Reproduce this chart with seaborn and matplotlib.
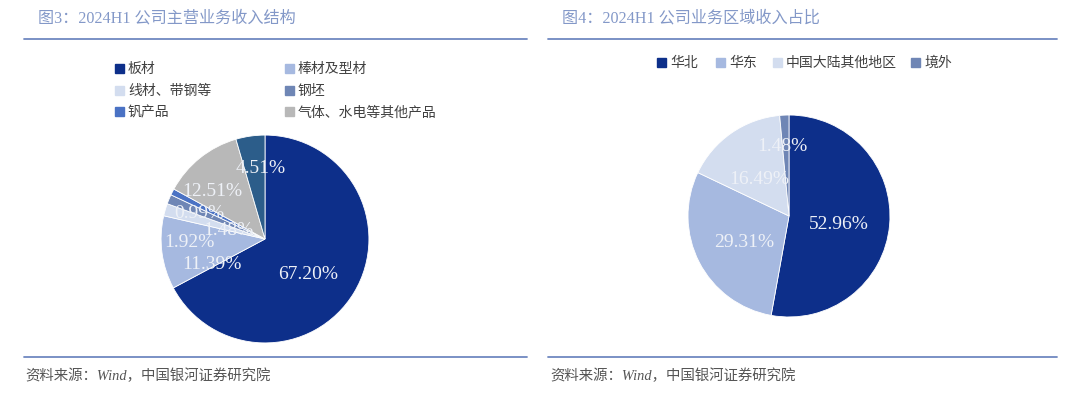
import numpy as np
import matplotlib.pyplot as plt
import matplotlib.patches as mpatches
import seaborn as sns

# 图3 数据：主营业务收入结构
cats_left = ['板材', '棒材及型材', '线材、带钢等', '钢坯', '钒产品', '气体、水电等其他产品', '其他']
vals_left = [67.20, 11.39, 1.92, 1.48, 0.99, 12.51, 4.51]
# 图4 数据：区域收入占比
cats_right = ['华北', '华东', '中国大陆其他地区', '境外']
vals_right = [52.96, 29.31, 16.49, 1.48]

colors_left = ['#0d2f8a', '#a6b9e0', '#d3ddef', '#6f86b5', '#4a72c4', '#b8b8b8', '#2c5d8a']
colors_right = ['#0d2f8a', '#a6b9e0', '#d3ddef', '#6f86b5']

# 数据标签位置（半径, 相对扇区中线的角度偏移）
lab_left = [(0.535, -7.5), (0.56, 17.7), (0.73, 18.5), (0.365, 7.4), (0.68, 4.8), (0.69, 8.4), (0.69, -5)]
lab_right = [(0.5, -3.6), (0.51, 2.9), (0.48, 3.6), (0.70, 2.5)]

sns.set_theme(style="white")
plt.rcParams['font.family'] = ['Noto Sans CJK SC', 'DejaVu Sans']

W, H = 1080, 402
fig = plt.figure(figsize=(W / 100, H / 100), dpi=100)
fig.patch.set_facecolor('white')

title_font = ['Liberation Serif', 'Noto Sans CJK SC']
title_color = '#8398c8'
line_color = '#7088c0'


def fx(x):
    return x / W


def fy(y):
    return 1 - y / H


def draw_pie(cx, cy, r, vals, colors, labs):
    ax = fig.add_axes([fx(cx - r), fy(cy + r), 2 * r / W, 2 * r / H])
    wedges, _ = ax.pie(vals, colors=colors, startangle=90, counterclock=False,
                       radius=1, wedgeprops=dict(edgecolor='white', linewidth=0.6))
    for w, v, (lr, shift) in zip(wedges, vals, labs):
        ang = np.deg2rad((w.theta1 + w.theta2) / 2 + shift)
        ax.text(lr * np.cos(ang), lr * np.sin(ang), f'{v:.2f}%', ha='center', va='center',
                fontsize=14, color='#eef1f7', family=['Liberation Serif', 'DejaVu Serif'])
    ax.set_xlim(-1.02, 1.02)
    ax.set_ylim(-1.02, 1.02)
    ax.set_aspect('equal')
    ax.axis('off')
    return ax


draw_pie(265, 240, 106, vals_left, colors_left, lab_left)
draw_pie(789, 217, 103, vals_right, colors_right, lab_right)

# 标题与分隔线
fig.text(fx(38), fy(18), '图3：2024H1 公司主营业务收入结构', fontsize=11.6, color=title_color,
         family=title_font, va='center', ha='left')
fig.text(fx(562), fy(18), '图4：2024H1 公司业务区域收入占比', fontsize=11.6, color=title_color,
         family=title_font, va='center', ha='left')
for x0, x1 in [(24, 527), (548, 1057)]:
    fig.add_artist(plt.Line2D([fx(x0), fx(x1)], [fy(40), fy(40)], color=line_color, lw=1.3))
    fig.add_artist(plt.Line2D([fx(x0), fx(x1)], [fy(358), fy(358)], color=line_color, lw=1.3))


# 图例
def legend_item(x, y, color, label):
    fig.add_artist(mpatches.Rectangle((fx(x), fy(y + 4.5)), 9 / W, 9 / H, color=color,
                                      transform=fig.transFigure))
    fig.text(fx(x + 13), fy(y), label, fontsize=10, color='#404040', va='center', ha='left')


left_pos = [(115, 69), (285, 69), (115, 91), (285, 91), (115, 112), (285, 112)]
for (x, y), c, lab in zip(left_pos, colors_left[:6], cats_left[:6]):
    legend_item(x, y, c, lab)

right_pos = [(657, 63), (716, 63), (773, 63), (911, 63)]
for (x, y), c, lab in zip(right_pos, colors_right, cats_right):
    legend_item(x, y, c, lab)

# 资料来源
for x in [25, 550]:
    fig.text(fx(x), fy(376), '资料来源：Wind，中国银河证券研究院', fontsize=10.4, color='#555555',
             style='italic', family=['Liberation Serif', 'Noto Sans CJK SC'], va='center', ha='left')

fig.savefig('out.png', dpi=100)
